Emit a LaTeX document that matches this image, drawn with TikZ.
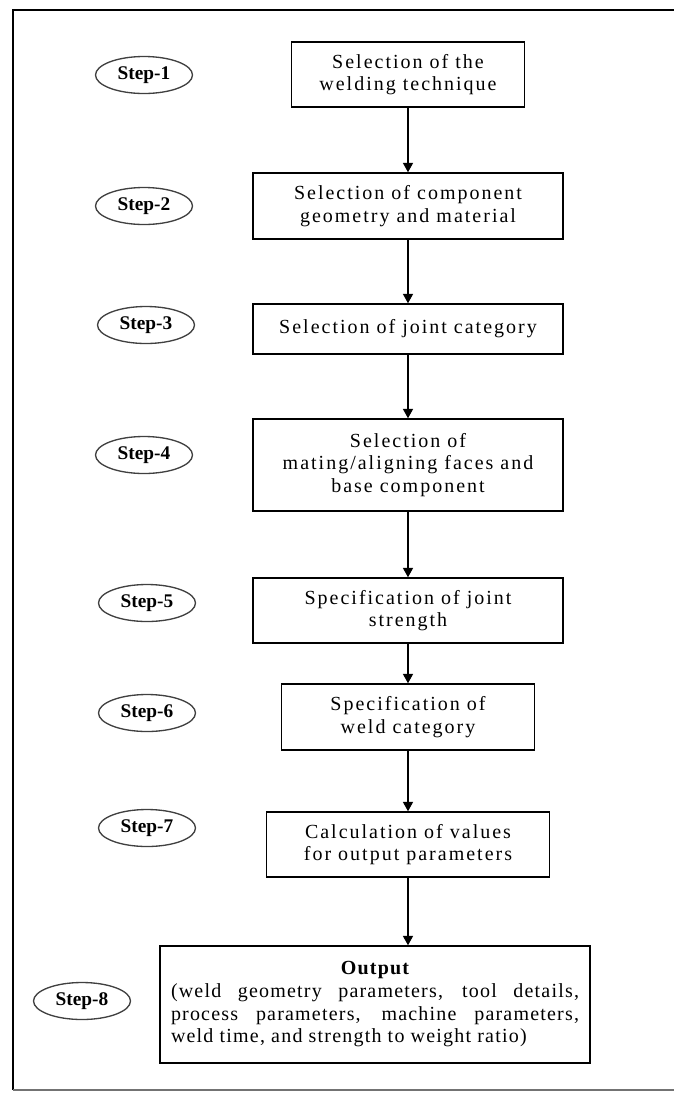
\documentclass[tikz,border=0pt]{standalone}
\usepackage{fontspec}
\setmainfont{Liberation Serif}
\usetikzlibrary{arrows.meta,shapes.geometric}

\tikzset{
  procbox/.style={draw, line width=1.1pt, inner sep=0pt, align=center,
    font=\fontsize{15}{17}\selectfont\addfontfeatures{LetterSpace=10}},
  stepoval/.style={draw=black!75, line width=1pt, ellipse, inner sep=0pt,
    minimum width=72.75pt, minimum height=27.75pt,
    font=\fontsize{14.5}{16}\selectfont\bfseries},
  flowarrow/.style={line width=1pt, -{Triangle[width=7.5pt,length=7pt]}}
}

\begin{document}
\begin{tikzpicture}[x=0.75pt,y=0.75pt,yscale=-1,xscale=1]
\useasboundingbox (0,0) rectangle (674,1093);

%Frame
\draw [line width=1.5pt] (674,10) -- (13,10) -- (13,1090) ;
\draw [line width=1.5pt, black!55] (13,1090) -- (674,1090) ;

%Step ovals
\node [stepoval] (s1) at (144,75) {Step-1};
\node [stepoval] (s2) at (144,206) {Step-2};
\node [stepoval] (s3) at (146,325) {Step-3};
\node [stepoval] (s4) at (144,455) {Step-4};
\node [stepoval] (s5) at (147,603) {Step-5};
\node [stepoval] (s6) at (147,713) {Step-6};
\node [stepoval] (s7) at (147,828) {Step-7};
\node [stepoval] (s8) at (82,1001) {Step-8};

%Process boxes
\node [procbox, minimum width=174.75pt, minimum height=48.75pt] (b1) at (408,74.5) {Selection of the\\welding technique};
\node [procbox, minimum width=232.5pt, minimum height=49.5pt] (b2) at (408,206) {Selection of component\\geometry and material};
\node [procbox, minimum width=232.5pt, minimum height=37.5pt] (b3) at (408,329) {Selection of joint category};
\node [procbox, minimum width=232.5pt, minimum height=69pt] (b4) at (408,465) {Selection of\\mating/aligning faces and\\base component};
\node [procbox, minimum width=232.5pt, minimum height=48.75pt] (b5) at (408,610.5) {Specification of joint\\strength};
\node [procbox, minimum width=189.75pt, minimum height=49.5pt] (b6) at (408,717) {Specification of\\weld category};
\node [procbox, minimum width=212.25pt, minimum height=48.75pt] (b7) at (408,844.5) {Calculation of values\\for output parameters};
\node [procbox, minimum width=322.5pt, minimum height=87.75pt, text width=306pt, align=justify,
  font=\fontsize{15}{17}\selectfont\addfontfeatures{LetterSpace=6}] (b8) at (375,1004.5)
  {\makebox[\linewidth]{\bfseries Output}\\(weld geometry parameters, tool details,\linebreak process parameters, machine parameters,\linebreak weld time, and strength to weight ratio)};

%Arrows
\draw [flowarrow] (b1.south) -- (b1.south |- b2.north) ;
\draw [flowarrow] (b2.south) -- (b2.south |- b3.north) ;
\draw [flowarrow] (b3.south) -- (b3.south |- b4.north) ;
\draw [flowarrow] (b4.south) -- (b4.south |- b5.north) ;
\draw [flowarrow] (b5.south) -- (b5.south |- b6.north) ;
\draw [flowarrow] (b6.south) -- (b6.south |- b7.north) ;
\draw [flowarrow] (b7.south) -- (b7.south |- b8.north) ;
\end{tikzpicture}
\end{document}
